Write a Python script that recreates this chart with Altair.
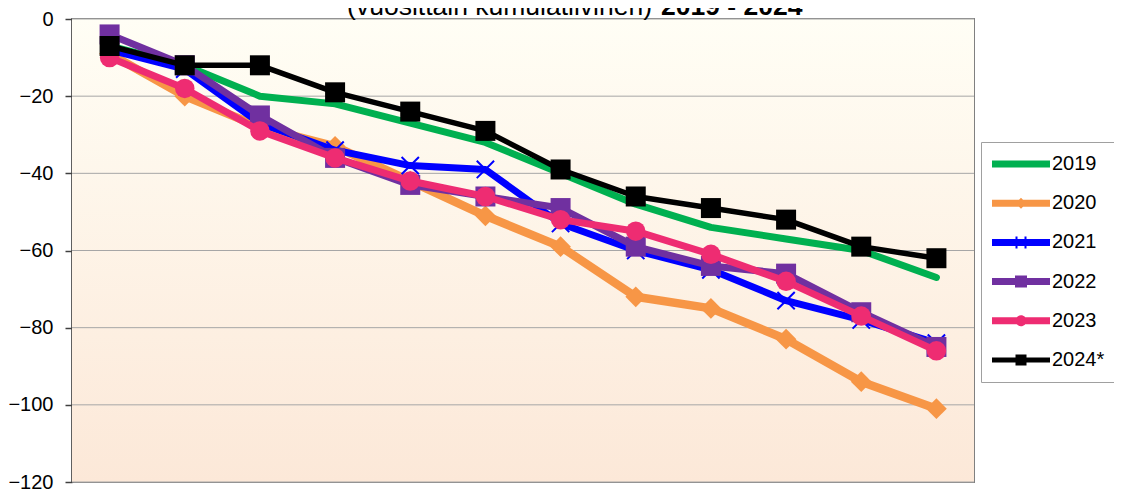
import altair as alt
import pandas as pd

months = list(range(1, 13))
series = ["2019", "2020", "2021", "2022", "2023", "2024*"]
y2019 = [-7, -12, -20, -22, -27, -32, -40, -48, -54, -57, -60, -67]
y2020 = [-9, -20, -28, -33, -42, -51, -59, -72, -75, -83, -94, -101]
y2021 = [-8, -13, -27, -34, -38, -39, -53, -60, -65, -73, -78, -84]
y2022 = [-4, -12, -25, -36, -43, -46, -49, -59, -64, -66, -76, -85]
y2023 = [-10, -18, -29, -36, -42, -46, -52, -55, -61, -68, -77, -86]
y2024 = [-7, -12, -12, -19, -24, -29, -39, -46, -49, -52, -59, -62]
all_values = [y2019, y2020, y2021, y2022, y2023, y2024]
y_ticks = [0, -20, -40, -60, -80, -100, -120]
title_normal = "(vuosittain kumulatiivinen)"
title_bold = "2019 - 2024*"

colors = ["#00B050", "#F79646", "#0000FF", "#7030A0", "#EE2C72", "#000000"]
line_widths = [7, 8.5, 7, 7, 7, 5.5]
markers = [None, "diamond", "M-1,-1L1,1M-1,1L1,-1", "square", "circle", "square"]
marker_sizes = [0, 430, 300, 400, 380, 400]

# legend symbol paths: a thick line with a small marker on it
legend_paths = [
    "M-2.9,-0.35H2.9V0.35H-2.9Z",
    "M-2.9,-0.35H2.9V0.35H-2.9Z M0,-0.55L0.55,0L0,0.55L-0.55,0Z",
    "M-2.9,-0.35H2.9V0.35H-2.9Z M-0.55,-0.6H-0.35V0.6H-0.55Z M0.35,-0.6H0.55V0.6H0.35Z",
    "M-2.9,-0.35H2.9V0.35H-2.9Z M-0.6,-0.6H0.6V0.6H-0.6Z",
    "M-2.9,-0.35H2.9V0.35H-2.9Z M-0.55,0A0.55,0.55 0 1,1 0.55,0A0.55,0.55 0 1,1 -0.55,0Z",
    "M-2.9,-0.25H2.9V0.25H-2.9Z M-0.55,-0.55H0.55V0.55H-0.55Z",
]

rows = []
for s, vals in zip(series, all_values):
    for m, v in zip(months, vals):
        rows.append({"month": m, "series": s, "value": v})
df = pd.DataFrame(rows)

FONT = "Liberation Sans"
W, H = 902, 463

x_enc = alt.X("month:O", scale=alt.Scale(type="point", padding=0.5), axis=None)
y_enc = alt.Y(
    "value:Q",
    scale=alt.Scale(domain=[-120, 0], nice=False, zero=False),
    axis=alt.Axis(
        values=y_ticks,
        title=None,
        labelFont=FONT,
        labelFontSize=20,
        labelColor="#000000",
        labelPadding=12,
        tickSize=7,
        tickColor="#404040",
        tickWidth=1.5,
        domainColor="#404040",
        domainWidth=2,
        grid=False,
    ),
)

gradient = alt.LinearGradient(
    gradient="linear",
    x1=0, y1=0, x2=0, y2=1,
    stops=[
        alt.GradientStop(offset=0, color="#FFFEF5"),
        alt.GradientStop(offset=1, color="#FCE8D8"),
    ],
)

layers = []
bg = alt.Chart(pd.DataFrame({"k": [0]})).mark_rect(color=gradient).encode(
    x=alt.value(0), x2=alt.value(W), y=alt.value(0), y2=alt.value(H)
)
layers.append(bg)

grid = alt.Chart(pd.DataFrame({"value": y_ticks})).mark_rule(color="#A6A6A6", strokeWidth=1).encode(
    y=y_enc, x=alt.value(0), x2=alt.value(W)
)
layers.append(grid)

for i, s in enumerate(series):
    sub = df[df["series"] == s]
    layers.append(
        alt.Chart(sub)
        .mark_line(color=colors[i], strokeWidth=line_widths[i], strokeCap="round", strokeJoin="round")
        .encode(x=x_enc, y=y_enc)
    )
    if markers[i] is not None:
        if markers[i].startswith("M"):
            pm = alt.Chart(sub).mark_point(
                shape=markers[i], filled=False, stroke=colors[i], strokeWidth=2,
                size=marker_sizes[i], opacity=1,
            )
        else:
            pm = alt.Chart(sub).mark_point(
                shape=markers[i], filled=True, fill=colors[i], size=marker_sizes[i],
                opacity=1, strokeWidth=0,
            )
        layers.append(pm.encode(x=x_enc, y=y_enc))

leg = alt.Legend(
    orient="none",
    legendX=909,
    legendY=123,
    direction="vertical",
    title=None,
    labelFont=FONT,
    labelFontSize=20,
    labelColor="#000000",
    symbolSize=400,
    symbolOffset=18,
    labelOffset=21,
    rowPadding=19.2,
    padding=12,
    strokeColor="#A0A0A0",
    fillColor="#FFFFFF",
    symbolOpacity=1,
    symbolStrokeWidth=0,
)

legend_layer = alt.Chart(df).mark_point(opacity=0, filled=True).encode(
    x=x_enc,
    y=y_enc,
    fill=alt.Fill("series:N", scale=alt.Scale(domain=series, range=colors), legend=leg, sort=series),
    shape=alt.Shape("series:N", scale=alt.Scale(domain=series, range=legend_paths), legend=leg, sort=series),
)
layers.append(legend_layer)

t1 = alt.Chart(pd.DataFrame({"t": [title_normal]})).mark_text(
    font=FONT, fontSize=26.5, align="right", baseline="alphabetic", color="#000000"
).encode(text="t:N", x=alt.value(580), y=alt.value(-4))
t2 = alt.Chart(pd.DataFrame({"t": [title_bold]})).mark_text(
    font=FONT, fontSize=26.5, fontWeight="bold", align="left", baseline="alphabetic", color="#000000"
).encode(text="t:N", x=alt.value(589), y=alt.value(-4))
layers += [t1, t2]

chart = (
    alt.layer(*layers)
    .properties(
        width=W,
        height=H,
        autosize=alt.AutoSizeParams(type="none"),
        padding={"left": 64, "top": 11, "right": 140, "bottom": 12},
        background="#FFFFFF",
    )
    .configure_view(stroke="#808080", strokeWidth=2)
)

chart.save("out.html", embed_options={"renderer": "svg", "actions": False})
